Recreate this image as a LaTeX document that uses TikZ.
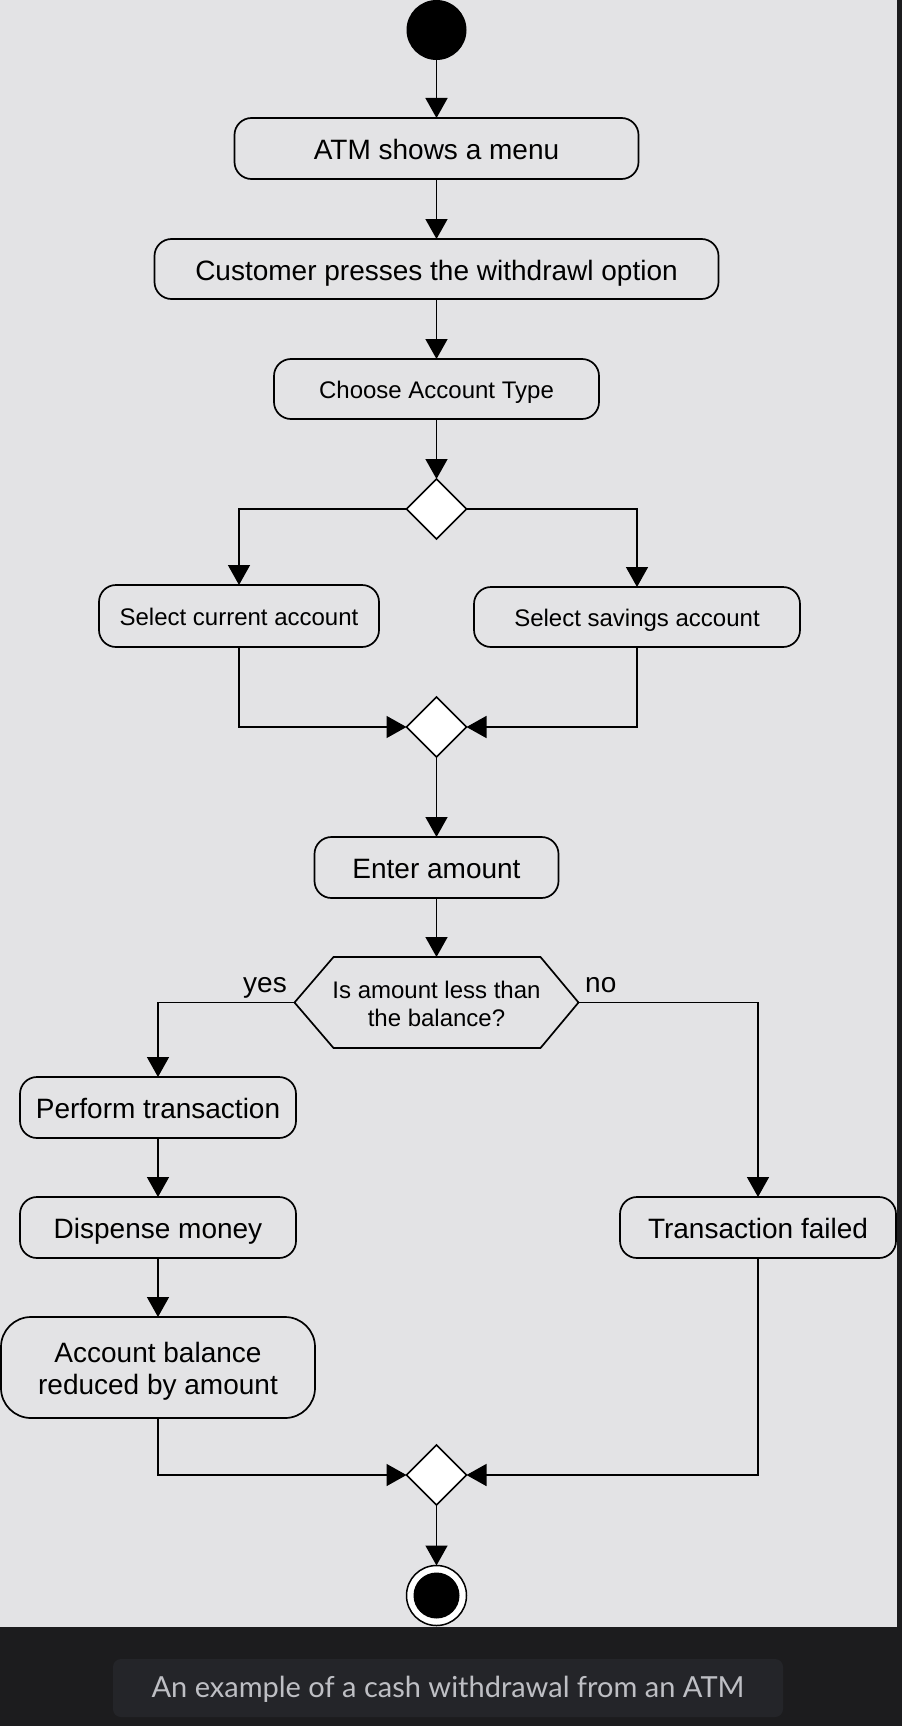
\documentclass[tikz,border=0pt]{standalone}
\usepackage{fontspec}
\setmainfont{Liberation Sans}
\newfontfamily\capfont{Lato}
\usetikzlibrary{arrows.meta,shapes.geometric}
\definecolor{bg}{RGB}{227,227,229}
\definecolor{dark}{RGB}{28,28,30}
\definecolor{capbox}{RGB}{36,37,41}
\definecolor{captext}{RGB}{190,191,196}
\begin{document}
\begin{tikzpicture}[x=1pt,y=-1pt,
  act/.style={draw, line width=1.7pt, rounded corners=17pt, inner sep=0pt, outer sep=0pt},
  big/.style={font=\fontsize{28}{32}\selectfont, text height=22pt, text depth=0pt},
  small/.style={font=\fontsize{24}{28}\selectfont, text height=19.5pt, text depth=0pt},
  conn/.style={line width=1.5pt, -{Triangle[length=20pt,width=22pt]}},
  dec/.style={diamond, draw, fill=white, line width=1.5pt, minimum width=60pt, minimum height=60pt, inner sep=0pt, outer sep=0pt},
  lbl/.style={font=\fontsize{28}{32}\selectfont, inner sep=0pt},
]
\useasboundingbox (0,0) rectangle (902,1726);
\fill[dark] (0,0) rectangle (902,1726);
\fill[bg] (0,0) rectangle (897,1627);

% nodes
\node[circle, fill=black, minimum size=60pt, inner sep=0pt, outer sep=0pt] (start) at (436.5,30) {};
\node[act, big, minimum width=404pt, minimum height=61pt] (b1) at (436.5,148.5) {ATM shows a menu};
\node[act, big, minimum width=564pt, minimum height=60pt] (b2) at (436.5,269) {Customer presses the withdrawl option};
\node[act, small, minimum width=325pt, minimum height=60pt] (b3) at (436.5,389) {Choose Account Type};
\node[dec] (d1) at (436.5,509) {};
\node[act, small, minimum width=280pt, minimum height=62pt] (sc) at (239,616) {Select current account};
\node[act, small, minimum width=326pt, minimum height=60pt] (ss) at (637,617) {Select savings account};
\node[dec] (d2) at (436.5,727) {};
\node[act, big, minimum width=244pt, minimum height=61pt] (ea) at (436.5,867.5) {Enter amount};

\node[minimum width=284pt, minimum height=91pt, inner sep=0pt, outer sep=0pt] (q) at (436.5,1002.5) {};
\draw[line width=1.7pt] (q.west) -- ([xshift=39pt]q.north west) -- ([xshift=-38pt]q.north east)
  -- (q.east) -- ([xshift=-38pt]q.south east) -- ([xshift=39pt]q.south west) -- cycle;
\node[font=\fontsize{24}{28}\selectfont, align=center, inner sep=0pt] (qt) at ([yshift=-1.75pt]q.center) {Is amount less than\\the balance?};

\node[act, big, minimum width=276pt, minimum height=61pt] (pt) at (158,1107.5) {Perform transaction};
\node[act, big, minimum width=276pt, minimum height=61pt] (dm) at (158,1227.5) {Dispense money};
\node[act, rounded corners=30pt, minimum width=314pt, minimum height=101pt] (ab) at (158,1367.5) {};
\node[font=\fontsize{28}{32}\selectfont, align=center, inner sep=0pt] (abt) at ([yshift=-3.25pt]ab.center) {Account balance\\reduced by amount};
\node[act, big, minimum width=276pt, minimum height=61pt] (tf) at (758,1227.5) {Transaction failed};
\node[dec] (d3) at (436.5,1475) {};
\node[circle, draw, fill=white, line width=1.5pt, minimum size=60pt, inner sep=0pt, outer sep=0pt] (end) at (436.5,1595.5) {};
\node[circle, fill=black, minimum size=46pt, inner sep=0pt] (endin) at (end) {};

\node[lbl, anchor=base east] (yes) at (287,992) {yes};
\node[lbl, anchor=base west] (no) at (585,992) {no};

% connectors
\draw[conn] (start.south) -- (b1.north);
\draw[conn] (b1.south) -- (b2.north);
\draw[conn] (b2.south) -- (b3.north);
\draw[conn] (b3.south) -- (d1.north);
\draw[conn] (d1.west) -| (sc.north);
\draw[conn] (d1.east) -| (ss.north);
\draw[conn] (sc.south) |- (d2.west);
\draw[conn] (ss.south) |- (d2.east);
\draw[conn] (d2.south) -- (ea.north);
\draw[conn] (ea.south) -- (q.north);
\draw[conn] (q.west) -| (pt.north);
\draw[conn] (q.east) -| (tf.north);
\draw[conn] (pt.south) -- (dm.north);
\draw[conn] (dm.south) -- (ab.north);
\draw[conn] (ab.south) |- (d3.west);
\draw[conn] (tf.south) |- (d3.east);
\draw[conn] (d3.south) -- (end.north);

% caption
\node[fill=capbox, rounded corners=8pt, minimum width=670pt, minimum height=58pt, inner sep=0pt] (capbg) at (448,1688) {};
\node[text=captext, font=\capfont\fontsize{29}{33}\selectfont, inner sep=0pt, anchor=base] (cap) at (448,1697.7) {An example of a cash withdrawal from an ATM};
\end{tikzpicture}
\end{document}
